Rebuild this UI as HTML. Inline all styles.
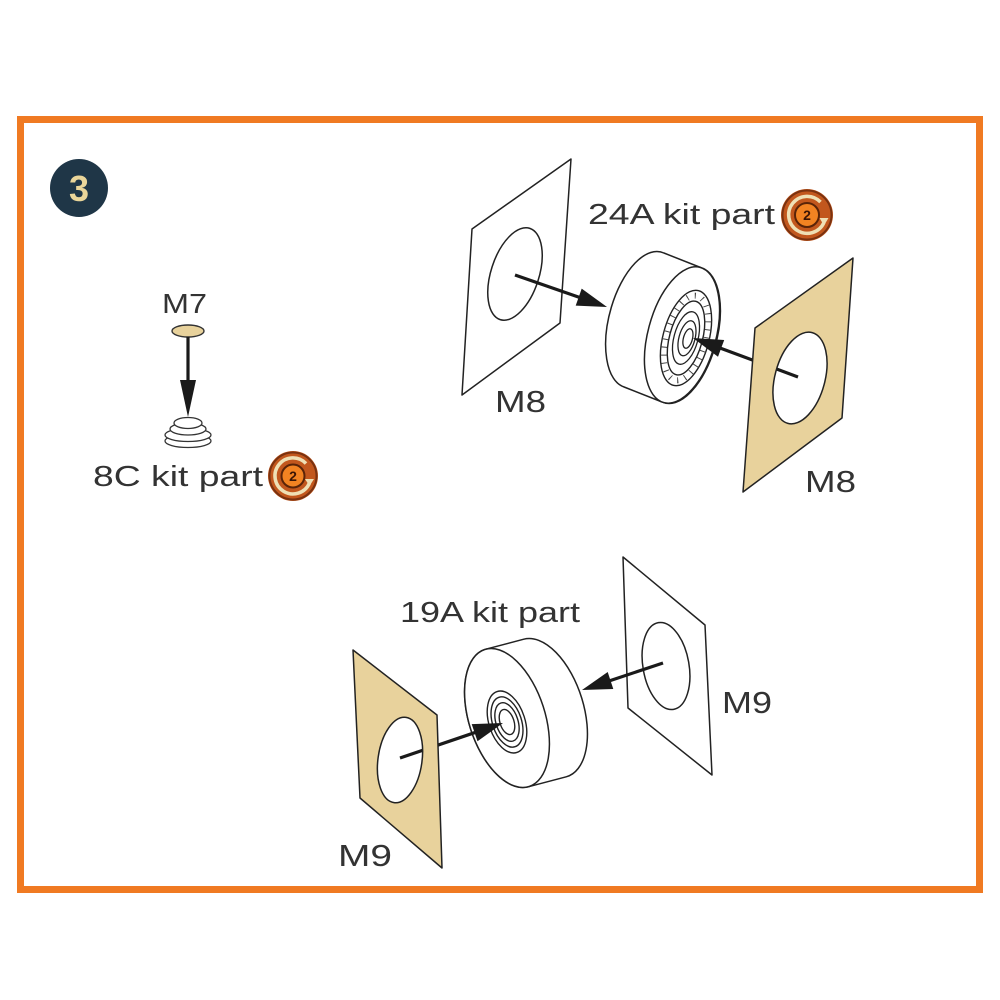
<!DOCTYPE html>
<html>
<head>
<meta charset="utf-8">
<style>
  html,body{margin:0;padding:0;background:#fff;}
  svg{display:block;}
  text{font-family:"Liberation Sans",sans-serif;}
</style>
</head>
<body>
<svg width="1000" height="1000" viewBox="0 0 1000 1000" xmlns="http://www.w3.org/2000/svg">
  <rect x="0" y="0" width="1000" height="1000" fill="#ffffff"/>
  <!-- orange frame -->
  <rect x="20.5" y="119.5" width="959" height="770" fill="#ffffff" stroke="#f07a22" stroke-width="7"/>

  <!-- step badge -->
  <circle cx="79" cy="188" r="29" fill="#1f3647"/>
  <text x="79" y="201" text-anchor="middle" font-size="36" font-weight="bold" fill="#ead69a">3</text>

  <!-- ===== Left group: M7 / 8C ===== -->
  <text x="162" y="313" font-size="28" fill="#333" textLength="45" lengthAdjust="spacingAndGlyphs">M7</text>
  <ellipse cx="188" cy="331" rx="16" ry="6" fill="#e8d29c" stroke="#333" stroke-width="1.4"/>
  <!-- 8C part stack -->
  <ellipse cx="188" cy="441" rx="23" ry="6.5" fill="#fff" stroke="#333" stroke-width="1.3"/>
  <ellipse cx="188" cy="435" rx="23" ry="6.5" fill="#fff" stroke="#333" stroke-width="1.3"/>
  <ellipse cx="188" cy="429" rx="18" ry="6" fill="#fff" stroke="#333" stroke-width="1.3"/>
  <ellipse cx="188" cy="423" rx="14" ry="5.5" fill="#fff" stroke="#333" stroke-width="1.3"/>
  <!-- arrow M7 -->
  <line x1="188" y1="337" x2="188" y2="383" stroke="#1a1a1a" stroke-width="3.2"/>
  <polygon points="188,417 180,380 196,380" fill="#1a1a1a"/>
  <text x="93" y="486" font-size="29" fill="#333" textLength="170" lengthAdjust="spacingAndGlyphs">8C kit part</text>
  <!-- icon -->
  <g transform="translate(293,476)">
    <circle r="25" fill="#c2571d"/>
    <circle r="23.5" fill="none" stroke="#7a3210" stroke-width="2"/>
    <path d="M 13 -12.5 A 18 18 0 1 0 16.5 7" fill="none" stroke="#efe0b5" stroke-width="3.5"/>
    <polygon points="12,3 21,3 16.5,10" fill="#efe0b5"/>
    <circle r="11.5" fill="#f28322" stroke="#5a2408" stroke-width="2"/>
    <text y="5" text-anchor="middle" font-size="14" font-weight="bold" fill="#3a1505">2</text>
  </g>

  <!-- ===== Top-right group ===== -->
  <text x="588" y="224" font-size="29" fill="#333" textLength="187" lengthAdjust="spacingAndGlyphs">24A kit part</text>
  <g transform="translate(807,215)">
    <circle r="26" fill="#c2571d"/>
    <circle r="24.5" fill="none" stroke="#7a3210" stroke-width="2"/>
    <path d="M 13.5 -13 A 18.5 18.5 0 1 0 17 7.5" fill="none" stroke="#efe0b5" stroke-width="3.5"/>
    <polygon points="12.5,3 21.5,3 17,10.5" fill="#efe0b5"/>
    <circle r="12" fill="#f28322" stroke="#5a2408" stroke-width="2"/>
    <text y="5" text-anchor="middle" font-size="14" font-weight="bold" fill="#3a1505">2</text>
  </g>

  <!-- left white M8 panel -->
  <polygon points="472,229 571,159 560,323 462,395" fill="#fff" stroke="#222" stroke-width="1.5" stroke-linejoin="round"/>
  <ellipse cx="515" cy="274" rx="24" ry="48" transform="rotate(18 515 274)" fill="none" stroke="#222" stroke-width="1.5"/>
  <text x="495" y="412" font-size="31" fill="#333" textLength="51" lengthAdjust="spacingAndGlyphs">M8</text>

  <!-- wheel 1 -->
  <path d="M 663.9 253 A 34 70 15 1 0 624.1 387 L 662.1 402 A 34 70 15 1 0 701.9 268 Z" fill="#fff" stroke="#222" stroke-width="1.5" stroke-linejoin="round"/>
  <ellipse cx="682" cy="335" rx="34" ry="70" transform="rotate(15 682 335)" fill="#fff" stroke="#222" stroke-width="1.5"/>
  <g transform="rotate(15 686 338)" fill="none" stroke="#222">
    <ellipse cx="686" cy="338" rx="23" ry="49" stroke-width="1.4"/>
    <ellipse cx="686" cy="338" rx="20" ry="43.5" stroke-width="6" stroke-dasharray="1 7" stroke="#444"/>
    <ellipse cx="686" cy="338" rx="16.5" ry="38" stroke-width="1.4"/>
    <ellipse cx="686" cy="338" rx="12" ry="27" stroke-width="1.3"/>
    <ellipse cx="687" cy="338" rx="8" ry="18" stroke-width="1.3"/>
    <ellipse cx="688" cy="338" rx="4.5" ry="10" stroke-width="1.3"/>
  </g>

  <!-- arrow 2 (behind tan panel) -->
  <line x1="798" y1="377" x2="719" y2="347.6" stroke="#1a1a1a" stroke-width="3.2"/>
  <polygon points="693,338 724.2,340 718,356.8" fill="#1a1a1a"/>
  <!-- tan M8 panel with hole -->
  <path fill-rule="evenodd" d="M 755 328 L 853 258 L 842 418 L 743 492 Z M 824.15 384.47 A 25 47 15 1 0 775.85 371.53 A 25 47 15 1 0 824.15 384.47 Z" fill="#e8d29c" stroke="#222" stroke-width="1.5" stroke-linejoin="round"/>
  <text x="805" y="492" font-size="31" fill="#333" textLength="51" lengthAdjust="spacingAndGlyphs">M8</text>

  <!-- arrow 1 -->
  <line x1="515" y1="275" x2="580.5" y2="297.7" stroke="#1a1a1a" stroke-width="3.2"/>
  <polygon points="607,307 575.7,305.6 581.7,288.6" fill="#1a1a1a"/>

  <!-- ===== Bottom group ===== -->
  <text x="400" y="622" font-size="29" fill="#333" textLength="180" lengthAdjust="spacingAndGlyphs">19A kit part</text>

  <!-- right white M9 panel -->
  <polygon points="623,557 705,625 712,775 628,708" fill="#fff" stroke="#222" stroke-width="1.5" stroke-linejoin="round"/>
  <ellipse cx="666" cy="666" rx="23" ry="44" transform="rotate(-10 666 666)" fill="none" stroke="#222" stroke-width="1.5"/>
  <text x="722" y="713" font-size="31" fill="#333" textLength="50" lengthAdjust="spacingAndGlyphs">M9</text>

  <!-- wheel 2 -->
  <path d="M 485.8 649.2 L 523.8 639.2 A 38 72 -18 1 1 566.2 776.8 L 528.2 786.8 A 38 72 -18 1 1 485.8 649.2 Z" fill="#fff" stroke="#222" stroke-width="1.5" stroke-linejoin="round"/>
  <ellipse cx="507" cy="718" rx="38" ry="72" transform="rotate(-18 507 718)" fill="#fff" stroke="#222" stroke-width="1.5"/>
  <g transform="rotate(-18 507 722)" fill="none" stroke="#222" stroke-width="1.4">
    <ellipse cx="507" cy="722" rx="18" ry="32"/>
    <ellipse cx="507" cy="722" rx="14.5" ry="26"/>
    <ellipse cx="507" cy="722" rx="11" ry="20"/>
    <ellipse cx="507" cy="722" rx="7" ry="13"/>
  </g>

  <!-- arrow 5 -->
  <line x1="663" y1="663" x2="609" y2="681" stroke="#1a1a1a" stroke-width="3.2"/>
  <polygon points="582,690 613.3,689 607.7,672" fill="#1a1a1a"/>

  <!-- arrow 4 (behind tan panel) -->
  <line x1="400" y1="758" x2="476" y2="732.2" stroke="#1a1a1a" stroke-width="3.2"/>
  <polygon points="503,723 477.5,741.2 471.7,724.1" fill="#1a1a1a"/>
  <!-- tan M9 panel with hole -->
  <path fill-rule="evenodd" d="M 353 650 L 437 715 L 442 868 L 360 798 Z M 421.79 763.06 A 22 43 8 1 0 378.21 756.94 A 22 43 8 1 0 421.79 763.06 Z" fill="#e8d29c" stroke="#222" stroke-width="1.5" stroke-linejoin="round"/>
  <text x="338" y="866" font-size="31" fill="#333" textLength="54" lengthAdjust="spacingAndGlyphs">M9</text>
</svg>
</body>
</html>
